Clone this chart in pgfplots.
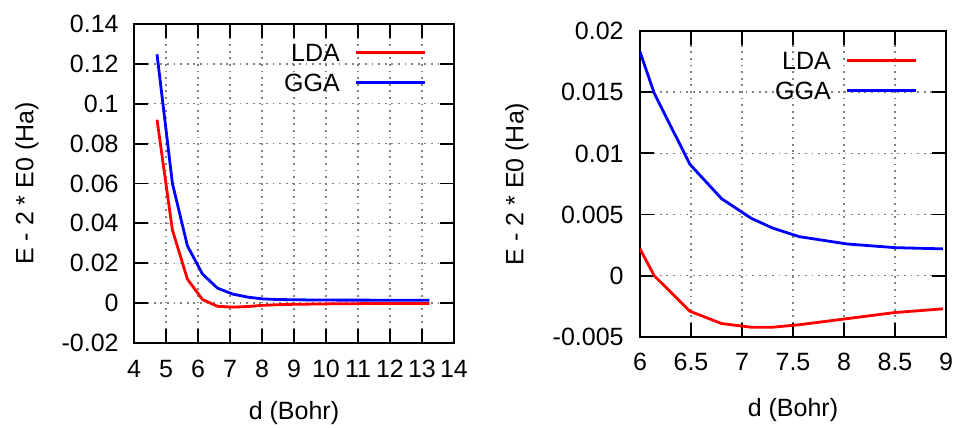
\documentclass[border=0pt]{standalone}
\usepackage{fontspec}
\setmainfont{Liberation Sans}
\usepackage{pgfplots}
\pgfplotsset{compat=1.18}

% energies
\pgfplotstableread{
d      lda      gga
4.72   0.0920   0.1248
5.20   0.0367   0.0601
5.67   0.0120   0.0287
6.14   0.0018   0.0146
6.61  -0.0016   0.0075
7.09  -0.0020   0.0045
7.56  -0.0017   0.0030
8.03  -0.0011   0.0021
8.50  -0.0008   0.0018
8.98  -0.0006   0.0017
9.45  -0.0005   0.0016
9.92  -0.0004   0.0016
10.39 -0.0003   0.0015
10.87 -0.0003   0.0015
11.34 -0.0002   0.0015
11.81 -0.0002   0.0014
12.28 -0.0002   0.0014
12.76 -0.0002   0.0014
13.23 -0.0002   0.0014
}\widetable
\pgfplotstableread{
d      lda      gga
6.00   0.0022   0.0183
6.14   0.0000   0.0149
6.49  -0.0029   0.0091
6.80  -0.0039   0.0063
7.09  -0.0042   0.0047
7.30  -0.0042   0.0039
7.56  -0.0040   0.0032
8.03  -0.0035   0.0026
8.50  -0.0030   0.0023
8.97  -0.0027   0.0022
}\zoomtable

\pgfplotsset{
  gp/.style={
    scale only axis,
    font=\fontsize{12.5}{15}\selectfont,
    axis line style={line width=0.9pt},
    tick align=inside,
    major tick length=7pt,
    every tick/.style={black, line width=0.9pt},
    grid=major,
    major grid style={gray, line width=0.7pt, dash pattern=on 0.9pt off 2.4pt},
    scaled ticks=false,
    yticklabel style={inner sep=0pt, anchor=east, xshift=-7.5pt},
    xticklabel style={inner sep=0pt, anchor=north, yshift=-8.5pt},
    xlabel style={at={(axis description cs:0.5,0)}, anchor=center, yshift=-35pt},
    legend cell align=right,
    legend plot pos=right,
    legend image code/.code={\draw[#1] (0pt,0pt) -- (34.5pt,0pt);},
    legend style={draw=none, fill=none, anchor=north east, inner sep=0pt,
      column sep=7.5pt, row sep=5.5pt,
      nodes={inner sep=0pt, text height=9pt, text depth=0.5pt}},
  },
  ldaline/.style={red, line width=1.4pt, line join=round},
  ggaline/.style={blue, line width=1.4pt, line join=round},
}

\begin{document}
\begin{tikzpicture}
\path[use as bounding box] (-67pt,-42.5pt) rectangle (410pt,171.5pt);

\begin{axis}[gp,
  width=160pt, height=159.5pt,
  xmin=4, xmax=14, ymin=-0.02, ymax=0.14,
  xtick={4,5,...,14},
  xticklabels={4,5,6,7,8,9,10,11,12,13,14},
  ytick={-0.02,0,0.02,0.04,0.06,0.08,0.1,0.12,0.14},
  yticklabels={-0.02,0,0.02,0.04,0.06,0.08,0.1,0.12,0.14},
  xlabel={d (Bohr)},
  ylabel={E - 2 * E0 (Ha)},
  ylabel style={at={(axis description cs:0,0.5)}, anchor=center, yshift=53.5pt},
  legend style={at={(1,1)}, xshift=-13.5pt, yshift=-9.5pt},
]
\addplot[ldaline] table[x=d, y=lda] {\widetable};
\addplot[ggaline] table[x=d, y=gga] {\widetable};
\legend{LDA, GGA}
\end{axis}

\begin{axis}[gp,
  at={(253pt,3pt)}, anchor=south west,
  width=153pt, height=153pt,
  xmin=6, xmax=9, ymin=-0.005, ymax=0.02,
  xtick={6,6.5,...,9},
  xticklabels={6,6.5,7,7.5,8,8.5,9},
  ytick={-0.005,0,0.005,0.01,0.015,0.02},
  yticklabels={-0.005,0,0.005,0.01,0.015,0.02},
  yticklabel style={xshift=-0.5pt},
  xticklabel style={yshift=0.5pt},
  xlabel={d (Bohr)},
  xlabel style={yshift=-1.5pt},
  ylabel={E - 2 * E0 (Ha)},
  ylabel style={at={(axis description cs:0,0.5)}, anchor=center, yshift=61.5pt},
  legend style={at={(1,1)}, xshift=-14pt, yshift=-10pt},
]
\addplot[ldaline] table[x=d, y=lda] {\zoomtable};
\addplot[ggaline] table[x=d, y=gga] {\zoomtable};
\legend{LDA, GGA}
\end{axis}
\end{tikzpicture}
\end{document}
